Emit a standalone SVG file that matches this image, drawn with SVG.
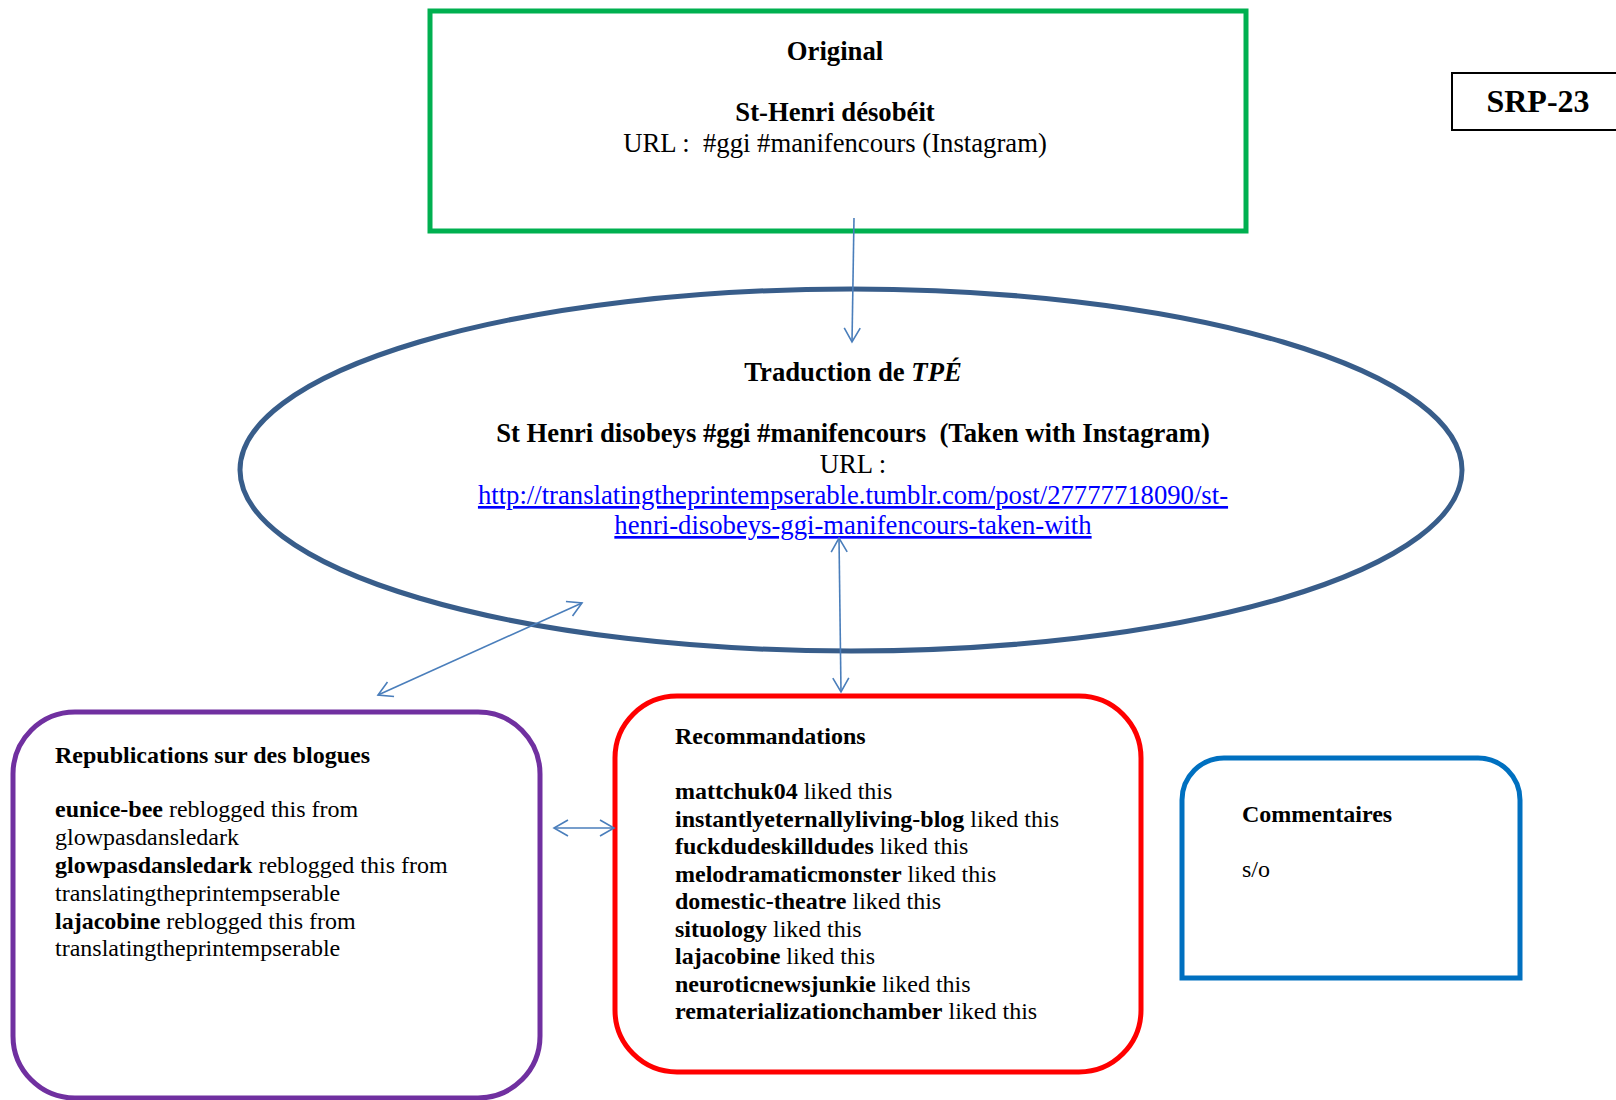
<svg xmlns="http://www.w3.org/2000/svg" width="1616" height="1100" viewBox="0 0 1616 1100">
<defs>
<style>
text{font-family:"Liberation Serif","Times New Roman",serif;fill:#000;font-size:24px}
.t{font-size:26.7px}
.b{font-weight:bold}
.c{text-anchor:middle}
.conn{stroke:#4A7EBB;stroke-width:1.6;fill:none}
.link{fill:#0000FF;text-decoration:underline}
</style>
<marker id="ah" markerUnits="userSpaceOnUse" markerWidth="20" markerHeight="20" viewBox="0 0 20 20" refX="17" refY="10" orient="auto-start-reverse">
<path d="M3,2 L17,10 L3,18" fill="none" stroke="#4A7EBB" stroke-width="1.6"/>
</marker>
</defs>
<rect width="1616" height="1100" fill="#fff"/>

<g id="srp">
<rect x="1452" y="73" width="170" height="57" fill="#fff" stroke="#000" stroke-width="2"/>
<text x="1538" y="112" class="b c" style="font-size:32px">SRP-23</text>
</g>

<g id="original">
<rect x="430" y="11" width="816" height="220" fill="#fff" stroke="#00B050" stroke-width="5"/>
<text x="835" y="60" class="t b c">Original</text>
<text x="835" y="121" class="t b c">St-Henri désobéit</text>
<text x="835" y="152" class="t c" xml:space="preserve">URL :  #ggi #manifencours (Instagram)</text>
</g>

<g id="traduction">
<ellipse cx="851" cy="470" rx="611" ry="181" fill="none" stroke="#385D8A" stroke-width="5"/>
<text x="853" y="381" class="t b c">Traduction de <tspan font-style="italic">TPÉ</tspan></text>
<text x="853" y="442" class="t b c" xml:space="preserve">St Henri disobeys #ggi #manifencours  (Taken with Instagram)</text>
<text x="853" y="473" class="t c">URL :</text>
<text x="853" y="504" class="t c link">http://translatingtheprintempserable.tumblr.com/post/27777718090/st-</text>
<text x="853" y="534" class="t c link">henri-disobeys-ggi-manifencours-taken-with</text>
</g>

<g id="republications">
<rect x="13" y="712" width="527" height="386" rx="62" ry="62" fill="none" stroke="#7030A0" stroke-width="5"/>
<text x="55" y="763" class="b">Republications sur des blogues</text>
<text x="55" y="817"><tspan class="b">eunice-bee</tspan> reblogged this from</text>
<text x="55" y="845">glowpasdansledark</text>
<text x="55" y="873"><tspan class="b">glowpasdansledark</tspan> reblogged this from</text>
<text x="55" y="901">translatingtheprintempserable</text>
<text x="55" y="929"><tspan class="b">lajacobine</tspan> reblogged this from</text>
<text x="55" y="956">translatingtheprintempserable</text>
</g>

<g id="recommandations">
<rect x="615" y="696" width="526" height="376" rx="62" ry="62" fill="none" stroke="#FF0000" stroke-width="5"/>
<text x="675" y="744" class="b">Recommandations</text>
<text x="675" y="799"><tspan class="b">mattchuk04</tspan> liked this</text>
<text x="675" y="827"><tspan class="b">instantlyeternallyliving-blog</tspan> liked this</text>
<text x="675" y="854"><tspan class="b">fuckdudeskilldudes</tspan> liked this</text>
<text x="675" y="882"><tspan class="b">melodramaticmonster</tspan> liked this</text>
<text x="675" y="909"><tspan class="b">domestic-theatre</tspan> liked this</text>
<text x="675" y="937"><tspan class="b">situology</tspan> liked this</text>
<text x="675" y="964"><tspan class="b">lajacobine</tspan> liked this</text>
<text x="675" y="992"><tspan class="b">neuroticnewsjunkie</tspan> liked this</text>
<text x="675" y="1019"><tspan class="b">rematerializationchamber</tspan> liked this</text>
</g>

<g id="commentaires">
<path d="M1182,978 L1182,800 A42,42 0 0 1 1224,758 L1478,758 A42,42 0 0 1 1520,800 L1520,978 Z" fill="none" stroke="#0070C0" stroke-width="5"/>
<text x="1242" y="822" class="b">Commentaires</text>
<text x="1242" y="877">s/o</text>
</g>

<g id="connectors">
<line class="conn" x1="854" y1="218" x2="852" y2="342" marker-end="url(#ah)"/>
<line class="conn" x1="839" y1="538" x2="841" y2="692" marker-start="url(#ah)" marker-end="url(#ah)"/>
<line class="conn" x1="582" y1="603" x2="378" y2="695" marker-start="url(#ah)" marker-end="url(#ah)"/>
<line class="conn" x1="554" y1="828" x2="614" y2="828" marker-start="url(#ah)" marker-end="url(#ah)"/>
</g>
</svg>
